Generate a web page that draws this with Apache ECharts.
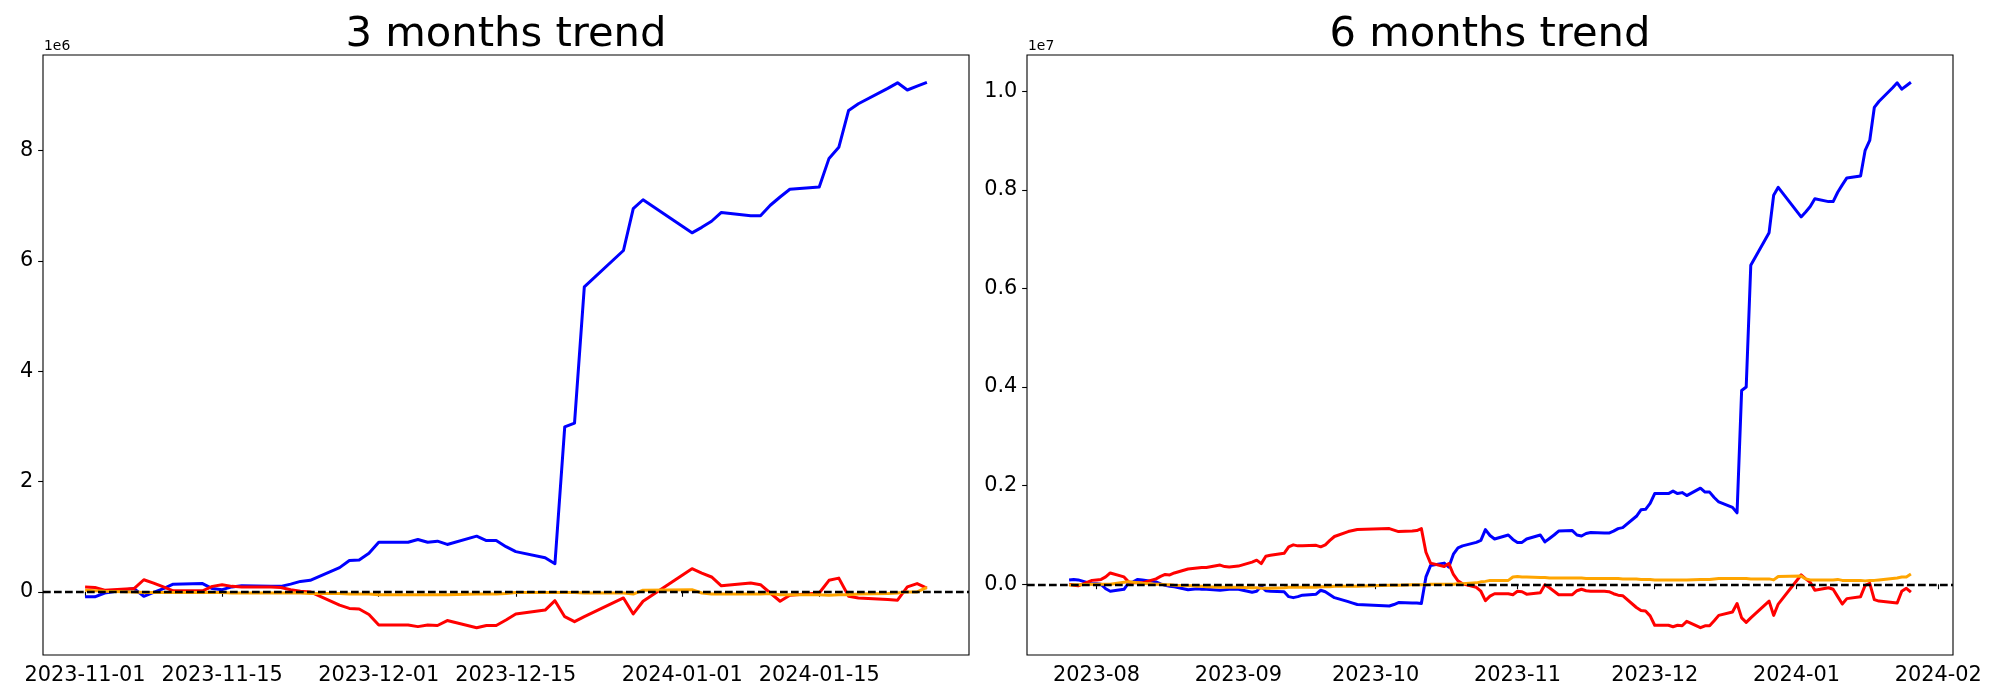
<!DOCTYPE html>
<html><head><meta charset="utf-8">
<script src="https://cdn.jsdelivr.net/npm/echarts@6/dist/echarts.min.js"></script>
<style>html,body{margin:0;padding:0;background:#fff}#c{width:2000px;height:700px}</style>
</head><body><div id="c"></div>
<script>
// ---------------- data (values in units of 1e6) ----------------
const titles = ['3 months trend', '6 months trend'];
const offsetTexts = ['1e6', '1e7'];

const dates3 = ['2023-11-01','2023-11-02','2023-11-03','2023-11-06','2023-11-07','2023-11-08','2023-11-09','2023-11-10',
'2023-11-13','2023-11-14','2023-11-15','2023-11-16','2023-11-17','2023-11-20','2023-11-21','2023-11-22','2023-11-23','2023-11-24',
'2023-11-27','2023-11-28','2023-11-29','2023-11-30','2023-12-01','2023-12-04','2023-12-05','2023-12-06','2023-12-07','2023-12-08',
'2023-12-11','2023-12-12','2023-12-13','2023-12-14','2023-12-15','2023-12-18','2023-12-19','2023-12-20','2023-12-21','2023-12-22',
'2023-12-26','2023-12-27','2023-12-28','2024-01-02','2024-01-03','2024-01-04','2024-01-05','2024-01-08','2024-01-09','2024-01-10',
'2024-01-11','2024-01-12','2024-01-15','2024-01-16','2024-01-17','2024-01-18','2024-01-19','2024-01-22','2024-01-23','2024-01-24',
'2024-01-25','2024-01-26'];
const blue3 = [-0.09,-0.09,-0.02,0.06,-0.08,-0.01,0.06,0.14,0.15,0.06,0.04,0.09,0.11,0.10,0.10,0.14,0.19,0.21,0.44,0.57,0.58,0.70,
0.90,0.90,0.95,0.90,0.92,0.86,1.01,0.93,0.93,0.82,0.73,0.62,0.51,2.99,3.06,5.53,6.19,6.95,7.11,
6.51,6.61,6.72,6.88,6.82,6.82,7.01,7.16,7.30,7.34,7.86,8.06,8.73,8.85,9.13,9.23,9.10,9.17,9.24];
const red3 = [0.09,0.08,0.03,0.06,0.22,0.16,0.09,0.02,0.02,0.10,0.13,0.10,0.09,0.09,0.08,0.04,0.01,0.00,-0.24,-0.30,-0.31,-0.41,
-0.60,-0.60,-0.63,-0.60,-0.61,-0.52,-0.65,-0.61,-0.61,-0.51,-0.40,-0.33,-0.16,-0.45,-0.54,-0.45,-0.11,-0.40,-0.17,
0.42,0.34,0.27,0.11,0.16,0.13,-0.02,-0.17,-0.06,-0.02,0.21,0.25,-0.08,-0.11,-0.14,-0.15,0.09,0.15,0.07];
const orange3 = [0.03,0.02,0.01,0.00,-0.01,-0.01,-0.01,-0.01,-0.01,-0.01,-0.01,-0.02,-0.02,-0.02,-0.02,-0.02,-0.02,-0.03,-0.03,-0.04,-0.04,-0.04,
-0.05,-0.05,-0.05,-0.05,-0.05,-0.05,-0.04,-0.04,-0.04,-0.03,-0.01,-0.01,-0.01,-0.01,-0.01,-0.02,-0.02,-0.04,0.03,
0.04,-0.02,-0.04,-0.04,-0.04,-0.04,-0.03,-0.05,-0.05,-0.05,-0.06,-0.05,-0.05,-0.04,-0.03,-0.02,0.00,0.00,0.08];

const dates6 = ['2023-07-26','2023-07-27','2023-07-28','2023-07-31','2023-08-01','2023-08-02','2023-08-03','2023-08-04',
'2023-08-07','2023-08-08','2023-08-09','2023-08-10','2023-08-11','2023-08-14','2023-08-15','2023-08-16','2023-08-17','2023-08-18',
'2023-08-21','2023-08-22','2023-08-23','2023-08-24','2023-08-25','2023-08-28','2023-08-29','2023-08-30','2023-08-31','2023-09-01',
'2023-09-04','2023-09-05','2023-09-06','2023-09-07','2023-09-08','2023-09-11','2023-09-12','2023-09-13','2023-09-14','2023-09-15',
'2023-09-18','2023-09-19','2023-09-20','2023-09-21','2023-09-22','2023-09-25','2023-09-26','2023-09-27',
'2023-10-04','2023-10-05','2023-10-06','2023-10-09','2023-10-10','2023-10-11','2023-10-12','2023-10-13',
'2023-10-16','2023-10-17','2023-10-18','2023-10-19','2023-10-20','2023-10-23','2023-10-24','2023-10-25','2023-10-26','2023-10-27',
'2023-10-30','2023-10-31'].concat(dates3);
const blue6 = [0.09,0.10,0.09,0.01,0.01,0.00,-0.09,-0.14,-0.10,0.03,0.05,0.10,0.09,0.05,0.01,-0.02,-0.04,-0.05,
-0.11,-0.10,-0.09,-0.10,-0.10,-0.12,-0.11,-0.10,-0.10,-0.10,-0.16,-0.14,-0.04,-0.13,-0.14,-0.15,-0.25,-0.27,-0.25,-0.22,
-0.20,-0.12,-0.15,-0.21,-0.27,-0.35,-0.38,-0.41,-0.44,-0.41,-0.37,-0.38,-0.38,-0.39,0.15,0.38,
0.43,0.35,0.61,0.74,0.78,0.85,0.89,1.11,0.99,0.92,1.00,0.91,
0.85,0.85,0.92,1.00,0.86,0.93,1.00,1.08,1.09,1.00,0.98,1.03,1.05,1.04,1.04,1.08,1.13,1.15,1.38,1.51,1.52,1.64,
1.84,1.84,1.89,1.84,1.86,1.80,1.95,1.87,1.87,1.76,1.67,1.56,1.45,3.93,4.00,6.47,7.13,7.89,8.05,
7.45,7.55,7.66,7.82,7.76,7.76,7.95,8.10,8.24,8.28,8.80,9.00,9.67,9.79,10.07,10.17,10.04,10.11,10.18];
const red6 = [0.00,-0.02,-0.03,0.08,0.09,0.10,0.15,0.23,0.15,0.05,0.03,0.03,0.03,0.11,0.16,0.20,0.19,0.23,
0.31,0.32,0.33,0.34,0.34,0.39,0.36,0.35,0.36,0.37,0.45,0.49,0.42,0.57,0.59,0.63,0.76,0.80,0.78,0.78,
0.79,0.76,0.80,0.89,0.97,1.07,1.09,1.11,1.13,1.10,1.07,1.08,1.09,1.13,0.65,0.43,
0.36,0.42,0.20,0.07,0.01,-0.06,-0.14,-0.33,-0.24,-0.19,-0.19,-0.21,
-0.14,-0.15,-0.20,-0.17,-0.01,-0.07,-0.14,-0.21,-0.21,-0.13,-0.10,-0.13,-0.14,-0.14,-0.15,-0.19,-0.22,-0.23,-0.47,-0.53,-0.54,-0.64,
-0.83,-0.83,-0.86,-0.83,-0.84,-0.75,-0.88,-0.84,-0.84,-0.74,-0.63,-0.56,-0.39,-0.68,-0.77,-0.68,-0.34,-0.63,-0.40,
0.19,0.11,0.04,-0.12,-0.07,-0.10,-0.25,-0.40,-0.29,-0.25,-0.02,0.02,-0.31,-0.34,-0.37,-0.38,-0.14,-0.08,-0.16];
const orange6 = [-0.02,-0.01,-0.01,0.00,0.00,0.00,0.00,0.00,0.04,0.05,0.04,0.03,0.02,0.00,0.00,-0.01,-0.01,-0.02,
-0.03,-0.03,-0.04,-0.04,-0.05,-0.06,-0.06,-0.06,-0.06,-0.06,-0.07,-0.07,-0.08,-0.08,-0.08,-0.07,-0.06,-0.06,-0.06,-0.06,
-0.06,-0.05,-0.05,-0.05,-0.04,-0.04,-0.04,-0.04,-0.02,-0.02,-0.02,-0.01,-0.01,-0.01,-0.01,0.00,
0.00,0.00,0.00,0.01,0.01,0.03,0.05,0.06,0.08,0.08,0.08,0.15,
0.16,0.15,0.15,0.14,0.14,0.13,0.13,0.13,0.13,0.13,0.13,0.12,0.12,0.12,0.12,0.12,0.12,0.11,0.11,0.10,0.10,0.10,
0.09,0.09,0.09,0.09,0.09,0.09,0.10,0.10,0.10,0.11,0.12,0.12,0.12,0.12,0.12,0.11,0.11,0.09,0.16,
0.17,0.11,0.09,0.09,0.09,0.09,0.10,0.08,0.08,0.08,0.07,0.08,0.08,0.09,0.12,0.13,0.15,0.15,0.21];

const xTicks3 = ['2023-11-01','2023-11-15','2023-12-01','2023-12-15','2024-01-01','2024-01-15'];
const xTicks6 = ['2023-08-01','2023-09-01','2023-10-01','2023-11-01','2023-12-01','2024-01-01','2024-02-01'];
const yTicks3 = [0, 2, 4, 6, 8];          // in 1e6
const yTicks6 = [0, 2, 4, 6, 8, 10];      // in 1e6, labelled in 1e7
const colors = ['#0000ff', '#ff0000', '#ffa500'];

// ---------------- helpers ----------------
function ts(s) { const p = s.split('-').map(Number); return new Date(p[0], p[1] - 1, p[2]).getTime(); }
function pad(n) { return (n < 10 ? '0' : '') + n; }
function lim(arrs) {
  let mn = Infinity, mx = -Infinity;
  arrs.forEach(a => a.forEach(v => { if (v < mn) mn = v; if (v > mx) mx = v; }));
  const m = (mx - mn) * 0.05; return [mn - m, mx + m];
}
const FONT = 'DejaVu Sans';
const LBL = 20.83;

const panels = [
  { dates: dates3, series: [blue3, red3, orange3], xt: xTicks3, yt: yTicks3,
    xfmt: v => { const d = new Date(v); return d.getFullYear() + '-' + pad(d.getMonth() + 1) + '-' + pad(d.getDate()); },
    yfmt: v => String(Math.round(v)) },
  { dates: dates6, series: [blue6, red6, orange6], xt: xTicks6, yt: yTicks6,
    xfmt: v => { const d = new Date(v); return d.getFullYear() + '-' + pad(d.getMonth() + 1); },
    yfmt: v => (v / 10).toFixed(1) }
];
const gridLeft = [43, 1027];
const gridW = 926, gridTop = 55, gridH = 600;

const option = { animation: false, backgroundColor: '#ffffff', grid: [], xAxis: [], yAxis: [], series: [], graphic: [] };
panels.forEach((p, k) => {
  const tsd = p.dates.map(ts);
  const xl = lim([tsd]);
  const yl = lim(p.series);
  option.grid.push({ left: gridLeft[k], top: gridTop, width: gridW, height: gridH, show: true,
    borderColor: '#000', borderWidth: 1.1, backgroundColor: 'transparent', containLabel: false });
  option.xAxis.push({ type: 'value', gridIndex: k, min: xl[0], max: xl[1], scale: true,
    axisLine: { show: false }, splitLine: { show: false },
    axisTick: { show: true, customValues: p.xt.map(ts), length: 4.86, lineStyle: { color: '#000', width: 1.1 } },
    axisLabel: { show: true, customValues: p.xt.map(ts), formatter: p.xfmt, margin: 9.7, color: '#000',
      fontSize: LBL, fontFamily: FONT, hideOverlap: false, showMinLabel: true, showMaxLabel: true } });
  option.yAxis.push({ type: 'value', gridIndex: k, min: yl[0], max: yl[1],
    axisLine: { show: false }, splitLine: { show: false },
    axisTick: { show: true, customValues: p.yt, length: 4.86, lineStyle: { color: '#000', width: 1.1 } },
    axisLabel: { show: true, customValues: p.yt, formatter: p.yfmt, margin: 9.7, color: '#000',
      fontSize: LBL, fontFamily: FONT } });
  p.series.forEach((arr, j) => {
    option.series.push({ type: 'line', xAxisIndex: k, yAxisIndex: k, showSymbol: false, symbol: 'none',
      data: tsd.map((t, i) => [t, arr[i]]),
      lineStyle: { color: colors[j], width: 3, join: 'round', cap: 'butt' },
      itemStyle: { color: colors[j] }, silent: true, z: 2 + j });
  });
  option.series.push({ type: 'line', xAxisIndex: k, yAxisIndex: k, data: [], silent: true, z: 10,
    markLine: { silent: true, symbol: 'none', animation: false, label: { show: false },
      lineStyle: { color: '#000', width: 2.3, type: [7.7, 3.3] },
      data: [{ yAxis: 0 }] } });
  option.graphic.push({ type: 'text', x: gridLeft[k] + gridW / 2, y: 14,
    style: { text: titles[k], fill: '#000', font: '41.67px "DejaVu Sans"', textAlign: 'center', textVerticalAlign: 'top' } });
  option.graphic.push({ type: 'text', x: gridLeft[k] + 1, y: 53,
    style: { text: offsetTexts[k], fill: '#000', font: '13.9px "DejaVu Sans"', textAlign: 'left', textVerticalAlign: 'bottom' } });
});

const chart = echarts.init(document.getElementById('c'), null, { renderer: 'canvas' });
chart.setOption(option);
</script>
</body></html>
